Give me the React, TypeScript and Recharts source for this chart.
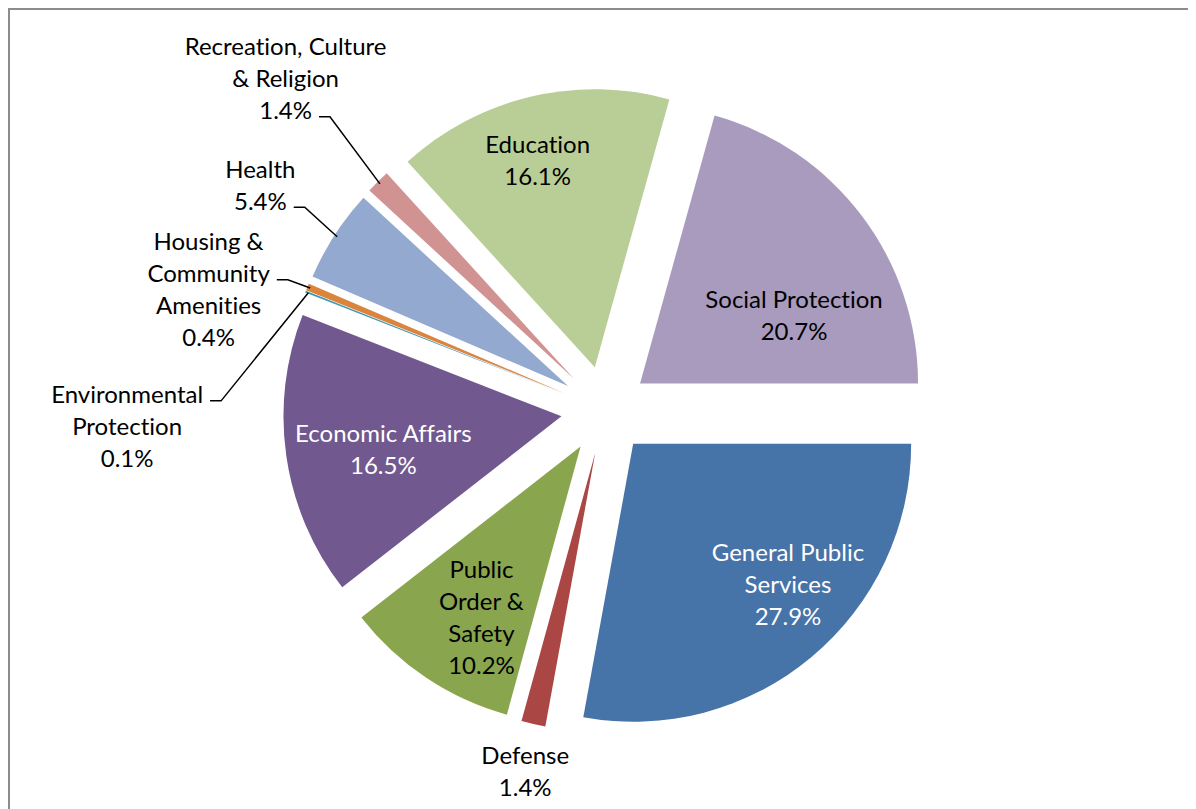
import React from "react";
import { PieChart, Pie, Sector } from "recharts";

// spending shares by function, % of total
const categories = [
  "General Public Services",
  "Defense",
  "Public Order & Safety",
  "Economic Affairs",
  "Environmental Protection",
  "Housing & Community Amenities",
  "Health",
  "Recreation, Culture & Religion",
  "Education",
  "Social Protection",
];
const shares = [27.9, 1.4, 10.2, 16.5, 0.1, 0.4, 5.4, 1.4, 16.1, 20.7];
const labelNames = [
  ["General Public", "Services"],
  ["Defense"],
  ["Public", "Order &", "Safety"],
  ["Economic Affairs"],
  ["Environmental", "Protection"],
  ["Housing &", "Community", "Amenities"],
  ["Health"],
  ["Recreation, Culture", "& Religion"],
  ["Education"],
  ["Social Protection"],
];

const SLICE_COLORS = [
  "#4673a8", "#aa4643", "#89a54e", "#71588f", "#4198af",
  "#db843d", "#93a9cf", "#d19392", "#b9cd96", "#a99bbd",
];

// label placement: r = distance from pie centre in outer radii, da = degrees clockwise from slice middle
const LABEL_LAYOUT = [
  { r: 0.91, da: -6.5, color: "#fff" },
  { r: 1.33, da: -0.4, color: "#000" },
  { r: 0.87, da: -3.0, color: "#000" },
  { r: 0.81, da: -1.9, color: "#fff" },
  { r: 1.72, da: -23.6, color: "#000", leader: 0 },
  { r: 1.49, da: -5.6, color: "#000", leader: 1 },
  { r: 1.48, da: 0.2, color: "#000", leader: 1 },
  { r: 1.655, da: 0.9, color: "#000", leader: 2 },
  { r: 0.93, da: -1.7, color: "#000" },
  { r: 0.76, da: 10.7, color: "#000" },
];

const FONT = "Lato, 'Open Sans', sans-serif";
const FONT_SIZE = 24;
const LINE_H = 32;
const EXPLODE = 44;
const RADIUS = 278;

const data = categories.map((name, i) => ({ name, value: shares[i] }));

const RAD = Math.PI / 180;
// angle in degrees, clockwise on screen from 3 o'clock
function polar(cx: number, cy: number, r: number, deg: number) {
  return { x: cx + r * Math.cos(deg * RAD), y: cy + r * Math.sin(deg * RAD) };
}

let ctx: CanvasRenderingContext2D | null = null;
function textWidth(s: string) {
  if (!ctx) {
    ctx = document.createElement("canvas").getContext("2d");
  }
  if (!ctx) return s.length * FONT_SIZE * 0.5;
  ctx.font = `${FONT_SIZE}px Lato`;
  return ctx.measureText(s).width;
}

const ExplodedSector = (props: any) => {
  const { cx, cy, midAngle, innerRadius, outerRadius, startAngle, endAngle, fill } = props;
  const off = polar(0, 0, EXPLODE, -midAngle);
  return (
    <Sector
      cx={cx + off.x}
      cy={cy + off.y}
      innerRadius={innerRadius}
      outerRadius={outerRadius}
      startAngle={startAngle}
      endAngle={endAngle}
      fill={fill}
      stroke="none"
    />
  );
};

const renderLabel = (props: any) => {
  const { cx, cy, midAngle, outerRadius, index, value } = props;
  const lay = LABEL_LAYOUT[index];
  const mid = -midAngle;
  const pos = polar(cx, cy, outerRadius * lay.r, mid + lay.da);
  const lines = [...labelNames[index], `${Number(value).toFixed(1)}%`];
  const lineY = (i: number) => pos.y - 1 + (i - (lines.length - 1) / 2) * LINE_H;

  let leader = null;
  if (lay.leader !== undefined) {
    const ly = lineY(lay.leader) + 7;
    const lx = pos.x + textWidth(lines[lay.leader]) / 2 + 7;
    const tip = polar(cx, cy, outerRadius + EXPLODE - 3, mid);
    leader = (
      <polyline
        points={`${lx},${ly} ${lx + 11},${ly} ${tip.x},${tip.y}`}
        fill="none"
        stroke="#000"
        strokeWidth={1.5}
      />
    );
  }

  return (
    <g key={`lbl-${index}`}>
      {leader}
      <text
        x={pos.x}
        y={pos.y}
        textAnchor="middle"
        fontFamily={FONT}
        fontSize={FONT_SIZE}
        fill={lay.color}
        style={{ fontVariantLigatures: "none" }}
      >
        {lines.map((ln, i) => (
          <tspan key={i} x={pos.x} y={lineY(i)} dominantBaseline="central">
            {ln}
          </tspan>
        ))}
      </text>
    </g>
  );
};

export default function App() {
  return (
    <div
      style={{
        width: 1186,
        height: 799,
        borderLeft: "2px solid #8c8c8c",
        borderTop: "2px solid #8c8c8c",
        background: "#fff",
      }}
    >
      <PieChart width={1186} height={799} margin={{ top: 0, right: 0, bottom: 0, left: 0 }}>
        <Pie
          data={data.map((d, i) => ({ ...d, fill: SLICE_COLORS[i] }))}
          dataKey="value"
          nameKey="name"
          cx={595}
          cy={400}
          outerRadius={RADIUS}
          startAngle={0}
          endAngle={-360}
          stroke="none"
          shape={ExplodedSector}
          activeShape={ExplodedSector}
          label={renderLabel}
          labelLine={false}
          isAnimationActive={false}
        />
      </PieChart>
    </div>
  );
}
